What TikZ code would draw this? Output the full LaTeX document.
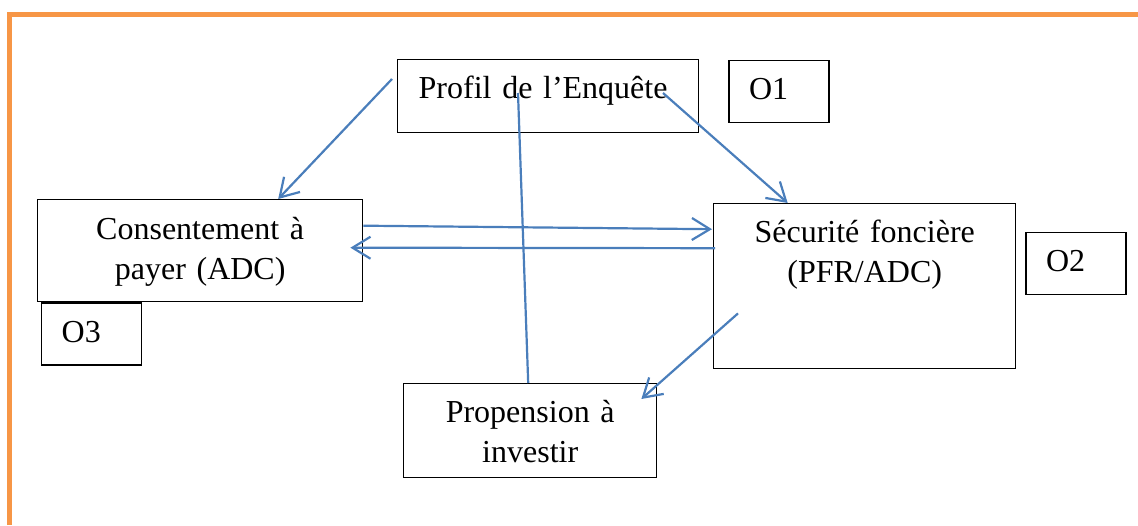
\documentclass[tikz,border=0pt]{standalone}
\usepackage{fontspec}
\setmainfont{Liberation Serif}
\usetikzlibrary{arrows.meta,positioning}
\definecolor{linkblue}{RGB}{74,126,187}
\definecolor{frameorange}{RGB}{247,150,70}

\begin{document}
\begin{tikzpicture}[x=1pt, y=1pt, >={Straight Barb[length=18pt,width=22pt]}]
        \tikzset{box/.style={rectangle, draw, line width=1.4pt, inner sep=0pt, anchor=north west, align=center, font=\fontsize{32}{40}\selectfont},
                 tag/.style={box, align=left, inner xsep=20pt, text width=60pt, text height=39pt, text depth=23pt},
                 link/.style={draw=linkblue, line width=2.2pt}}
        \useasboundingbox (0,0) rectangle (1138,525);
        \draw[frameorange, line width=5pt] (9.5,0) -- (9.5,510.5) -- (1138,510.5);
        \node[box, align=left, inner xsep=21pt, text width=259pt, text height=39pt, text depth=34pt] (profil) at (397,466) {Profil de l’Enquête};
        \node[box, text width=325pt, text height=40pt, text depth=62pt] (consent) at (37,326) {Consentement à\\payer (ADC)};
        \node[box, text width=302pt, text height=39pt, text depth=126pt] (secu) at (713,322) {Sécurité foncière\\(PFR/ADC)};
        \node[box, text width=253pt, text height=39pt, text depth=55pt] (invest) at (403,142) {Propension à\\investir};
        \node[tag, below right=1pt and 29pt of profil.north east] (o1) {O1};
        \node[tag, below right=29pt and 9pt of secu.north east] (o2) {O2};
        \node[tag, below right=0pt and 4pt of consent.south west] (o3) {O3};
        \draw[link, ->] ([shift={(-5,-20)}]profil.north west) -- ([xshift=78pt]consent.north);
        \draw[link, ->] ([shift={(266,-34)}]profil.north west) -- ([xshift=-77pt]secu.north);
        \draw[link] ([shift={(121,-34)}]profil.north west) -- ([xshift=-2pt]invest.north);
        \draw[link, ->] ([yshift=25pt]consent.east) -- ([shift={(-1,57)}]secu.west);
        \draw[link, ->] ([shift={(2,38)}]secu.west) -- ([shift={(-13,3)}]consent.east);
        \draw[link, ->] ([shift={(25,56)}]secu.south west) -- ([shift={(-16,-16)}]invest.north east);
\end{tikzpicture}
\end{document}
